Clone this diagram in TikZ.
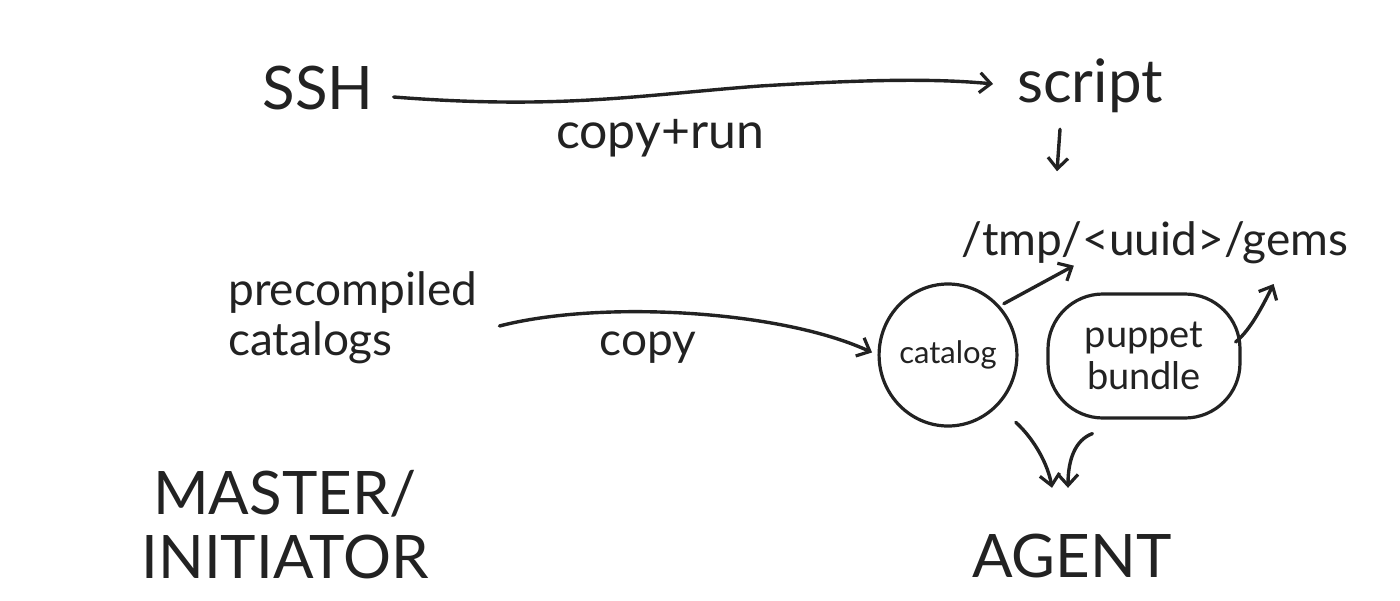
\documentclass[tikz,border=0pt]{standalone}
\usepackage{fontspec}
\setmainfont{Lato}
\usetikzlibrary{arrows.meta,shapes.geometric}
\definecolor{ink}{HTML}{222222}
\begin{document}
\begin{tikzpicture}[x=1pt,y=-1pt,
  lbl/.style={text=ink,inner sep=2pt,font=\fontsize{46}{50}\selectfont},
  big/.style={text=ink,inner sep=2pt,font=\fontsize{60}{64}\selectfont},
  conn/.style={draw=ink,line width=3.4pt,line cap=round,-{Straight Barb[length=11pt,width=20pt,line width=3.2pt]}},
  blob/.style={draw=ink,line width=3.2pt}]
\useasboundingbox (0,0) rectangle (1400,600);
\node[big] (ssh) at (318,88) {SSH};
\node[big] (script) at (1090,86) {script};
\node[lbl,font=\fontsize{50}{54}\selectfont] (copyrun) at (660,138) {copy+run};
\node[lbl] (gems) at (1155,243) {/tmp/<uuid>/gems};
\node[lbl,align=left,anchor=west] (pre) at (226,318) {precompiled\\catalogs};
\node[lbl] (copylbl) at (648,348) {copy};
\node[blob,ellipse,minimum width=136pt,minimum height=142pt,inner sep=0pt,font=\fontsize{31}{36}\selectfont,text=ink] (catalog) at (948,355) {catalog};
\node[blob,rounded corners=55pt,minimum width=192pt,minimum height=124pt,align=center,inner sep=0pt,font=\fontsize{38}{42}\selectfont,text=ink] (bundle) at (1144,356) {puppet\\bundle};
\node[big] (agent) at (1072,556) {AGENT};
\node[big,align=center] (master) at (285,525) {MASTER/\\INITIATOR};
\draw[conn,shorten >=22pt] (ssh.east) ++(18,9) .. controls (560,110) and (640,95) .. (760,86) .. controls (860,80) and (930,78) .. (script.west);
\draw[conn] (script.south) ++(-30,14) -- ++(-3,42);
\draw[conn,shorten >=6pt] (pre.east) ++(20,8) .. controls (600,300) and (780,310) .. (catalog.west);
\draw[conn] (catalog.north east) ++(6,0) -- ++(70,-38);
\draw[conn] (bundle.east) ++(-6,-14) .. controls +(15,-12) and +(-10,20) .. ++(38,-58);
\draw[conn] (catalog.south east) ++(18,16) .. controls (1035,440) and (1048,465) .. ([xshift=-20pt,yshift=44pt]agent.north);
\draw[conn] (bundle.south west) ++(46,14) .. controls (1075,440) and (1068,460) .. ([xshift=-4pt,yshift=44pt]agent.north);
\end{tikzpicture}
\end{document}
